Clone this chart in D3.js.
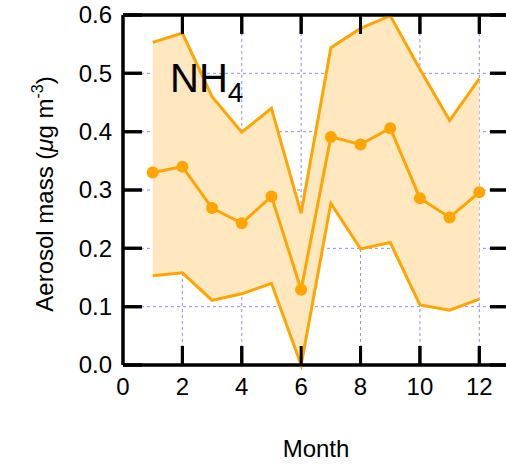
<!DOCTYPE html>
<html><head><meta charset="utf-8">
<script src="https://cdn.jsdelivr.net/npm/d3@7"></script>
<style>body{margin:0;background:#fff}svg{display:block}text{font-family:"Liberation Sans",Arial,sans-serif}</style>
</head><body><svg id="c" width="506" height="466"></svg>
<script>
const months = [1,2,3,4,5,6,7,8,9,10,11,12];
const meanVals = [0.330,0.340,0.269,0.243,0.289,0.129,0.391,0.378,0.406,0.286,0.253,0.296];
const upperVals = [0.553,0.569,0.460,0.399,0.440,0.260,0.544,0.577,0.599,0.507,0.419,0.491];
const lowerVals = [0.153,0.158,0.111,0.122,0.140,0.000,0.277,0.199,0.210,0.103,0.094,0.113];
const xTicks = [0,2,4,6,8,10,12];
const yTicks = [0,0.1,0.2,0.3,0.4,0.5,0.6];

const svg = d3.select("#c");
const L=123, R=509, T=15, B=365;
const x = d3.scaleLinear().domain([0,13]).range([L,R]);
const y = d3.scaleLinear().domain([0,0.6]).range([B,T]);
const orange="#ffa500", fillC="#ffe8c0", gridC="#8c8cff";
const tl=19, sw=3;

function drawFrame(){
  const fr=svg.append("g");
  fr.append("path").attr("d",`M${L},${B}H${R}M${L},${T}H${R}M${L},${T}V${B}M${R},${T}V${B}`)
   .attr("fill","none").attr("stroke","black").attr("stroke-width",sw);
  const tickPath = [];
  xTicks.filter(d=>d>0).forEach(d=>{
    tickPath.push(`M${x(d)},${B}V${B-tl}`);
    tickPath.push(`M${x(d)},${T}V${T+tl}`);
  });
  yTicks.forEach(d=>{
    tickPath.push(`M${L},${y(d)}H${L+tl}`);
    tickPath.push(`M${R},${y(d)}H${R-tl}`);
  });
  fr.append("path").attr("d",tickPath.join("")).attr("fill","none")
   .attr("stroke","black").attr("stroke-width",sw);
}
drawFrame();

// grid
const gridPath=[];
xTicks.filter(d=>d>0).forEach(d=>gridPath.push(`M${x(d)},${T}V${B}`));
yTicks.filter(d=>d>0&&d<0.6).forEach(d=>gridPath.push(`M${L},${y(d)}H${R}`));
svg.append("path").attr("d",gridPath.join("")).attr("fill","none")
 .attr("stroke",gridC).attr("stroke-width",1).attr("stroke-dasharray","3,3");

// band
const areaGen = d3.area().x((d,i)=>x(months[i])).y0((d,i)=>y(lowerVals[i])).y1(d=>y(d));
svg.append("path").datum(upperVals).attr("d",areaGen).attr("fill",fillC);
const lineGen = d3.line().x((d,i)=>x(months[i])).y(d=>y(d));
[upperVals,lowerVals,meanVals].forEach(s=>{
  svg.append("path").datum(s).attr("d",lineGen).attr("fill","none")
   .attr("stroke",orange).attr("stroke-width",3).attr("stroke-dasharray","none");
});
svg.selectAll("circle.pt").data(meanVals).join("circle").attr("class","pt")
 .attr("cx",(d,i)=>x(months[i])).attr("cy",d=>y(d)).attr("r",6).attr("fill",orange);

drawFrame();

svg.selectAll("text.xlab").data(xTicks).join("text").attr("class","xlab")
 .attr("x",d=>x(d)).attr("y",395).attr("text-anchor","middle")
 .attr("font-size",24).attr("fill","#000").text(d3.format("d"));
svg.selectAll("text.ylab").data(yTicks).join("text").attr("class","ylab")
 .attr("x",112).attr("y",d=>y(d)).attr("dy","0.35em").attr("text-anchor","end")
 .attr("font-size",24).attr("fill","#000").text(d3.format(".1f"));

// labels
svg.append("text").attr("x",316).attr("y",457).attr("text-anchor","middle")
 .attr("font-size",24).text("Month");
const yt=svg.append("text").attr("transform","translate(53,194) rotate(-90)")
 .attr("text-anchor","middle").attr("font-size",24);
yt.append("tspan").text("Aerosol mass (");
yt.append("tspan").attr("font-style","italic").text("μ");
yt.append("tspan").text("g m");
yt.append("tspan").attr("font-size",16).attr("dy",-10).text("-3");
yt.append("tspan").attr("dy",10).text(")");

const t=svg.append("text").attr("x",170).attr("y",92).attr("font-size",40);
t.append("tspan").text("NH");
t.append("tspan").attr("font-size",28).attr("dy",10).text("4");
</script></body></html>
